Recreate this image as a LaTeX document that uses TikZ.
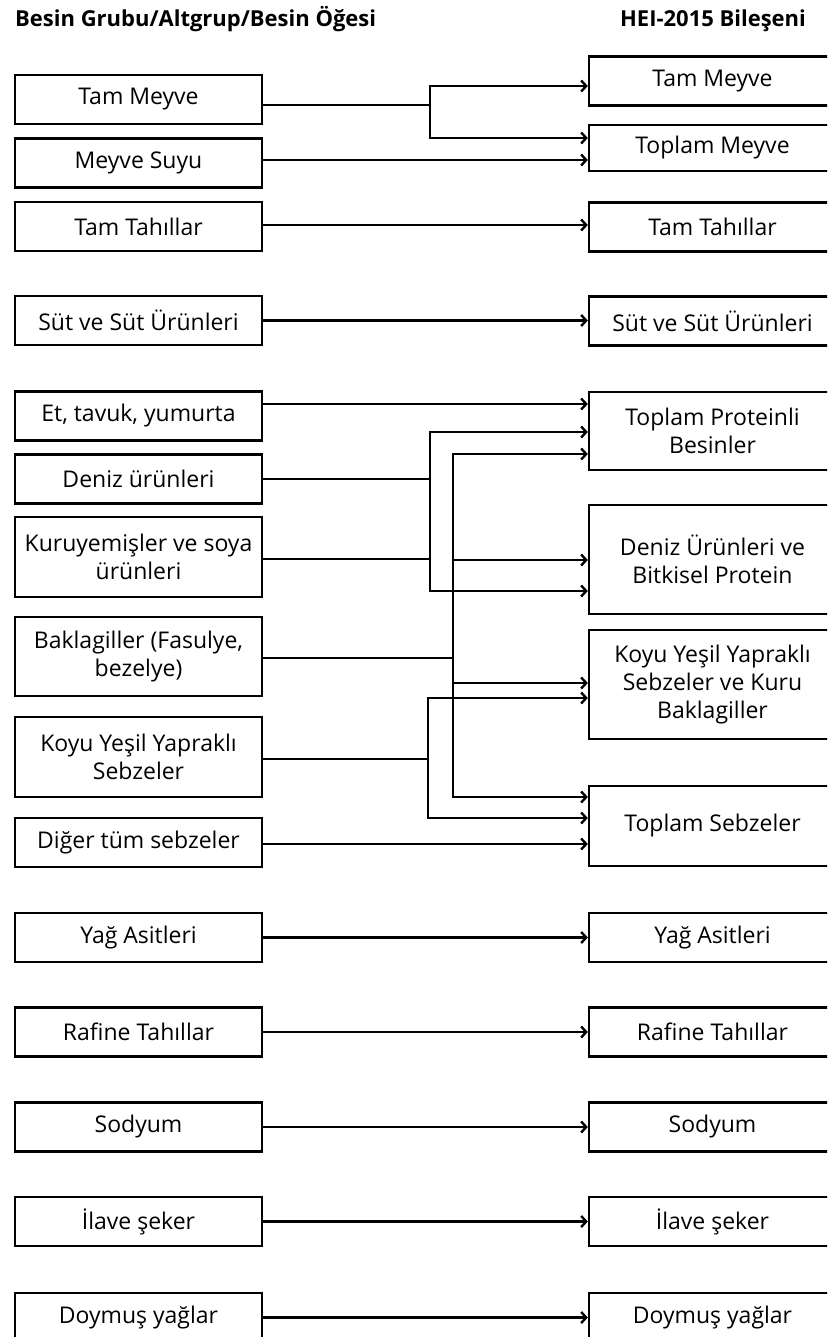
\documentclass[tikz,border=0pt]{standalone}
\usepackage{fontspec}
\setmainfont{Open Sans}
\usetikzlibrary{arrows.meta}
\begin{document}
\begin{tikzpicture}[x=1pt,y=-1pt,
  box/.style={draw,line width=2.4pt,minimum width=247pt,minimum height=49pt,align=center,
    font=\fontsize{23}{28}\selectfont,inner sep=0pt},
  conn/.style={line width=2.4pt},
  arr/.style={line width=2.4pt,-{Straight Barb[length=5pt,width=11pt]}},
  head/.style={font=\bfseries\fontsize{22}{25}\selectfont,inner sep=0pt}]
\useasboundingbox (0,0) rectangle (827,1337);
\clip (0,0) rectangle (827,1337);
% headers
\node[head,anchor=base west] (h1) at (15,27) {Besin Grubu/Altgrup/Besin Öğesi};
\node[head,anchor=base] (h2) at (713,27) {HEI-2015 Bileşeni};
% left boxes
\node[box] (L1) at (138.5,99.5) {Tam Meyve};
\node[box] (L2) at (138.5,163) {Meyve Suyu};
\node[box] (L3) at (138.5,226.5) {Tam Tahıllar};
\node[box] (L4) at (138.5,320.5) {Süt ve Süt Ürünleri};
\node[box] (L5) at (138.5,416) {Et, tavuk, yumurta};
\node[box] (L6) at (138.5,479) {Deniz ürünleri};
\node[box,minimum height=80pt] (L7) at (138.5,557) {Kuruyemişler ve soya\\ürünleri};
\node[box,minimum height=79pt] (L8) at (138.5,656.5) {Baklagiller (Fasulye,\\bezelye)};
\node[box,minimum height=80pt] (L9) at (138.5,757) {Koyu Yeşil Yapraklı\\Sebzeler};
\node[box] (L10) at (138.5,842.5) {Diğer tüm sebzeler};
\node[box] (L11) at (138.5,937.5) {Yağ Asitleri};
\node[box] (L12) at (138.5,1032) {Rafine Tahıllar};
\node[box] (L13) at (138.5,1127) {Sodyum};
\node[box] (L14) at (138.5,1221.5) {İlave şeker};
\node[box] (L15) at (138.5,1317.5) {Doymuş yağlar};
% right boxes
\node[box] (R1) at (712.5,81) {Tam Meyve};
\node[box,minimum height=46pt] (R2) at (712.5,148) {Toplam Meyve};
\node[box] (R3) at (712.5,227) {Tam Tahıllar};
\node[box] (R4) at (712.5,321) {Süt ve Süt Ürünleri};
\node[box,minimum height=78pt] (R5) at (712.5,431) {Toplam Proteinli\\Besinler};
\node[box,minimum height=109pt] (R6) at (712.5,559.5) {Deniz Ürünleri ve\\Bitkisel Protein};
\node[box,minimum height=109pt] (R7) at (712.5,684.5) {Koyu Yeşil Yapraklı\\Sebzeler ve Kuru\\Baklagiller};
\node[box,minimum height=80pt] (R8) at (712.5,826) {Toplam Sebzeler};
\node[box] (R9) at (712.5,937.5) {Yağ Asitleri};
\node[box] (R10) at (712.5,1032) {Rafine Tahıllar};
\node[box] (R11) at (712.5,1127) {Sodyum};
\node[box] (R12) at (712.5,1221.5) {İlave şeker};
\node[box] (R13) at (712.5,1317.5) {Doymuş yağlar};
% fruit
\coordinate (fa) at (430,105);
\coordinate (f1) at (430,86);
\coordinate (f2) at (430,138);
\coordinate (ms) at (0,160);
\draw[conn] (L1.east |- fa) -- (fa);
\draw[arr] (f2) -- (f1) -- (f1 -| R1.west);
\draw[arr] (f1) -- (f2) -- (f2 -| R2.west);
\draw[arr] (L2.east |- ms) -- (ms -| R2.west);
% simple
\coordinate (tt) at (0,225);
\draw[arr] (L3.east |- tt) -- (tt -| R3.west);
\draw[arr] (L4.east) -- (L4.east -| R4.west);
% protein
\coordinate (et) at (0,404);
\draw[arr] (L5.east |- et) -- (et -| R5.west);
\coordinate (dz) at (430,479);
\coordinate (ku) at (430,559);
\coordinate (d1) at (430,432);
\coordinate (d2) at (430,591);
\draw[conn] (L6.east |- dz) -- (dz);
\draw[conn] (L7.east |- ku) -- (ku);
\draw[arr] (d2) -- (d1) -- (d1 -| R5.west);
\draw[arr] (d1) -- (d2) -- (d2 -| R6.west);
% baklagiller
\coordinate (b0) at (453,658);
\coordinate (b1) at (453,454);
\coordinate (b2) at (453,560);
\coordinate (b3) at (453,683);
\coordinate (b4) at (453,797);
\draw[conn] (L8.east |- b0) -- (b0);
\draw[arr] (b4) -- (b1) -- (b1 -| R5.west);
\draw[arr] (b2) -- (b2 -| R6.west);
\draw[arr] (b3) -- (b3 -| R7.west);
\draw[arr] (b1) -- (b4) -- (b4 -| R8.west);
% koyu yesil
\coordinate (k0) at (428,759);
\coordinate (k1) at (428,698);
\coordinate (k2) at (428,818);
\draw[conn] (L9.east |- k0) -- (k0);
\draw[arr] (k2) -- (k1) -- (k1 -| R7.west);
\draw[arr] (k1) -- (k2) -- (k2 -| R8.west);
% diger
\coordinate (dg) at (0,844);
\draw[arr] (L10.east |- dg) -- (dg -| R8.west);
% rest
\draw[arr] (L11.east) -- (L11.east -| R9.west);
\draw[arr] (L12.east) -- (L12.east -| R10.west);
\draw[arr] (L13.east) -- (L13.east -| R11.west);
\draw[arr] (L14.east) -- (L14.east -| R12.west);
\draw[arr] (L15.east) -- (L15.east -| R13.west);
\end{tikzpicture}
\end{document}
